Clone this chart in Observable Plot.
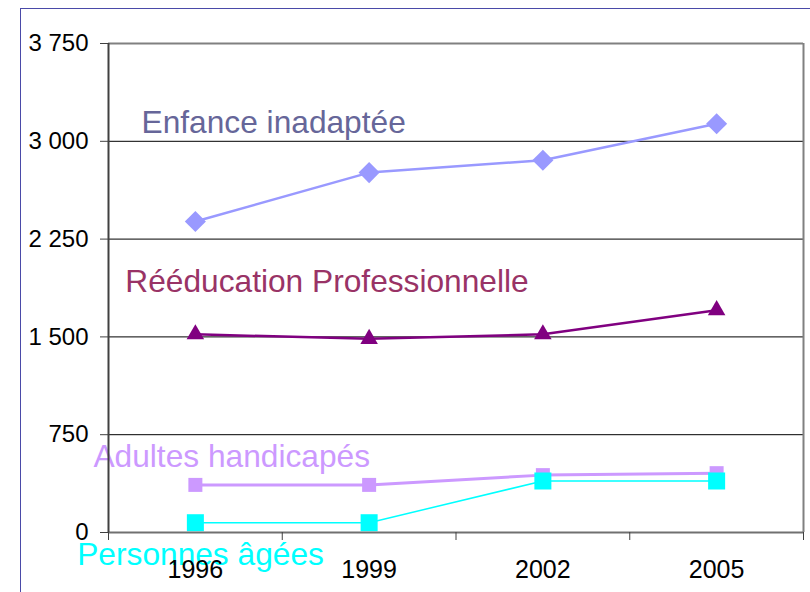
<!DOCTYPE html>
<html>
<head>
<meta charset="utf-8">
<script src="https://cdn.jsdelivr.net/npm/d3@7"></script>
<script src="https://cdn.jsdelivr.net/npm/@observablehq/plot@0.6"></script>
<style>
  html, body { margin: 0; padding: 0; background: #fff; overflow: hidden; }
  #wrap { position: relative; width: 810px; height: 592px; }
  #border { position: absolute; left: 20px; top: 8px; width: 900px; height: 700px;
            border-left: 1px solid #4a4aa8; border-top: 1px solid #4a4aa8; box-sizing: border-box; pointer-events: none; }
  svg { font-family: "Liberation Sans", Arial, sans-serif; }
</style>
</head>
<body>
<div id="wrap"><div id="border"></div></div>
<script>
// Data
const years = [1996, 1999, 2002, 2005];
const enfance = [2385, 2760, 2855, 3135];
const reeducation = [1520, 1485, 1520, 1705];
const adultes = [365, 365, 440, 455];
const personnes = [75, 75, 395, 395];
const yTicks = [0, 750, 1500, 2250, 3000, 3750];
const gridValues = [750, 1500, 2250, 3000];

const seriesNames = ["Enfance inadaptée", "Rééducation Professionnelle", "Adultes handicapés", "Personnes âgées"];
const seriesValues = [enfance, reeducation, adultes, personnes];
const lineColors = ["#9999ff", "#800080", "#cc99ff", "#00ffff"];
const textColors = ["#666699", "#993366", "#cc99ff", "#00ffff"];
const lineWidths = [2.5, 2.5, 3, 1.5];
// label anchors in data units (year, value)
const labelYear = [1995.07, 1994.79, 1994.24, 1993.96];
const labelValue = [3144, 1925, 583, -169];

const halfBand = 1.5;
const xDomain = [years[0] - halfBand, years[years.length - 1] + halfBand];
const boundaries = [...years.map(y => y - halfBand), years[years.length - 1] + halfBand];

const rows = seriesNames.flatMap((name, i) =>
  years.map((yr, j) => ({ name, year: yr, value: seriesValues[i][j], idx: i })));
const labels = seriesNames.map((name, i) => ({ name, x: labelYear[i], y: labelValue[i], idx: i }));

const fmt = v => d3.format(",")(v).replace(/,/g, " ");

const chart = Plot.plot({
  width: 810,
  height: 592,
  marginLeft: 108,
  marginRight: 7,
  marginTop: 43,
  marginBottom: 60,
  style: { background: "transparent", color: "black", fontFamily: "'Liberation Sans', Arial, sans-serif" },
  x: { domain: xDomain, axis: null },
  y: { domain: [0, 3750], axis: null },
  marks: [
    Plot.text(labels, { x: "x", y: "y", text: "name", fill: d => textColors[d.idx], fontSize: 31.7,
      textAnchor: "start", lineAnchor: "middle" }),
    Plot.ruleY(gridValues, { stroke: "black", strokeWidth: 1 }),
    ...seriesNames.map((name, i) =>
      Plot.line(rows.filter(r => r.idx === i), { x: "year", y: "value", stroke: lineColors[i], strokeWidth: lineWidths[i] })),
    Plot.dot(rows.filter(r => r.idx === 0), { x: "year", y: "value", symbol: "diamond2", r: 9.5, fill: lineColors[0], stroke: "none" }),
    Plot.dot(rows.filter(r => r.idx === 1), { x: "year", y: "value", symbol: "triangle", r: 6.5, fill: lineColors[1], stroke: "none" }),
    Plot.dot(rows.filter(r => r.idx === 2), { x: "year", y: "value", symbol: "square", r: 7.9, fill: lineColors[2], stroke: "none" }),
    Plot.dot(rows.filter(r => r.idx === 3), { x: "year", y: "value", symbol: "square", r: 9.6, fill: lineColors[3], stroke: "none" }),
    Plot.ruleY([yTicks[yTicks.length - 1]], { stroke: "#808080", strokeWidth: 2 }),
    Plot.ruleX([xDomain[1]], { stroke: "#808080", strokeWidth: 2 }),
    Plot.ruleY([0], { stroke: "#707070", strokeWidth: 2 }),
    Plot.ruleX([xDomain[0]], { stroke: "#404040", strokeWidth: 2 }),
    Plot.axisY({ ticks: yTicks, tickSize: 8, tickPadding: 12, fontSize: 24, tickFormat: fmt, stroke: "#404040" }),
    Plot.axisX({ ticks: boundaries, tickSize: 8, tickFormat: () => "", stroke: "#404040" }),
    Plot.axisX({ ticks: years, tickSize: 0, tickPadding: 28, fontSize: 25, tickFormat: d => String(d) })
  ]
});
document.getElementById("wrap").prepend(chart);
</script>
</body>
</html>
